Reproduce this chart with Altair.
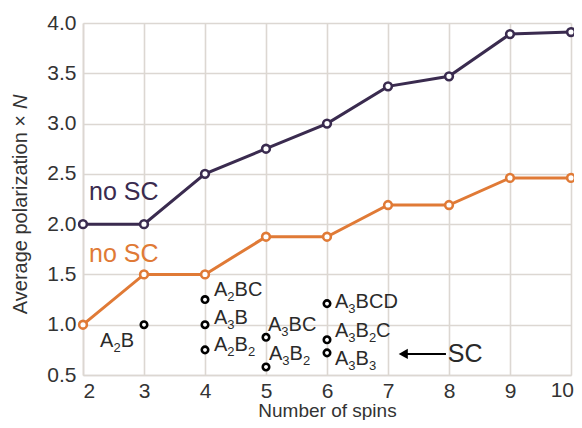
import altair as alt
import pandas as pd

# ---- data ----
spins = [2, 3, 4, 5, 6, 7, 8, 9, 10]
purple_no_sc = [2.0, 2.0, 2.5, 2.75, 3.0, 3.37, 3.47, 3.89, 3.91]
orange_no_sc = [1.0, 1.5, 1.5, 1.875, 1.875, 2.19, 2.19, 2.46, 2.46]

sc_spins = [3, 4, 4, 4, 5, 5, 6, 6, 6]
sc_values = [1.0, 1.25, 1.0, 0.75, 0.875, 0.58, 1.21, 0.85, 0.72]
sc_labels = ["A₂B", "A₂BC", "A₃B", "A₂B₂", "A₃BC", "A₃B₂", "A₃BCD", "A₃B₂C", "A₃B₃"]

x_ticks = [2, 3, 4, 5, 6, 7, 8, 9, 10]
y_ticks = [0.5, 1.0, 1.5, 2.0, 2.5, 3.0, 3.5, 4.0]
last_x_tick = [10]

# annotation anchors (data units)
nosc_label_x = [2.1, 2.1]
nosc_label_y = [2.32, 1.70]
arrow_x = [7.95, 7.25]
arrow_y = [0.71]
sc_text_x = [7.98]

# ---- styling ----
PURPLE = "#3a2b4f"
ORANGE = "#e07a36"
GRID = "#dcd7d2"
FONT = "Liberation Sans"
TXT = "#2a2a2a"
MAIN_SIZE = 20
SUB_SIZE = 13
SUB_DROP = 7

# label offsets (pixels) relative to each SC point: (align, dx, dy)
label_style = {
    "A₂B": ("right", -10, 16),
    "A₂BC": ("left", 9, -10),
    "A₃B": ("left", 9, -7),
    "A₂B₂": ("left", 9, -5),
    "A₃BC": ("left", 2, -12),
    "A₃B₂": ("left", 3, -13),
    "A₃BCD": ("left", 8, -2),
    "A₃B₂C": ("left", 8, -9),
    "A₃B₃": ("left", 8, 6),
}

# Arial/Liberation Sans advance widths (em) used to lay out subscripts
GLYPH_W = {"A": 0.667, "B": 0.667, "C": 0.722, "D": 0.722, "2": 0.556, "3": 0.556}
SUBS = {"₂": "2", "₃": "3"}


def split_label(label):
    segs = []
    for ch in label:
        sub = ch in SUBS
        t = SUBS.get(ch, ch)
        if segs and segs[-1][1] == sub:
            segs[-1][0] += t
        else:
            segs.append([t, sub])
    return segs


def seg_width(text, sub):
    size = SUB_SIZE if sub else MAIN_SIZE
    return sum(GLYPH_W[c] for c in text) * size


lines_df = pd.DataFrame(
    {
        "spins": spins * 2,
        "value": purple_no_sc + orange_no_sc,
        "series": ["purple"] * len(spins) + ["orange"] * len(spins),
    }
)
sc_df = pd.DataFrame({"spins": sc_spins, "value": sc_values, "label": sc_labels})

xscale = alt.Scale(domain=[2, 10], nice=False, zero=False)
yscale = alt.Scale(domain=[0.5, 4.0], nice=False, zero=False)

X = alt.X(
    "spins:Q",
    scale=xscale,
    axis=alt.Axis(
        values=x_ticks,
        format="d",
        labelExpr="datum.value == 10 ? '' : datum.label",
        labelPadding=5,
        title="Number of spins",
        titlePadding=0,
    ),
)
Y = alt.Y(
    "value:Q",
    scale=yscale,
    axis=alt.Axis(values=y_ticks, format=".1f", title=None),
)
cscale = alt.Scale(domain=["purple", "orange"], range=[PURPLE, ORANGE])
color = alt.Color("series:N", scale=cscale, legend=None)

base = alt.Chart(lines_df)
lines = base.mark_line(strokeWidth=3).encode(x=X, y=Y, color=color, detail="series:N")
line_pts = base.mark_point(
    filled=True, fill="white", size=60, strokeWidth=2.6, opacity=1
).encode(x=X, y=Y, stroke=alt.Stroke("series:N", scale=cscale, legend=None))

sc_pts = alt.Chart(sc_df).mark_point(
    filled=True, fill="white", stroke="black", size=42, strokeWidth=2.6, opacity=1
).encode(x=X, y=Y)

label_layers = []
for lab, (align, dx, dy) in label_style.items():
    segs = split_label(lab)
    total = sum(seg_width(t, s) for t, s in segs)
    cursor = dx if align == "left" else dx - total
    for t, s in segs:
        label_layers.append(
            alt.Chart(sc_df)
            .transform_filter(alt.datum.label == lab)
            .mark_text(
                text=t,
                align="left",
                baseline="middle",
                dx=round(cursor, 1),
                dy=dy + (SUB_DROP if s else 0),
                font=FONT,
                fontSize=SUB_SIZE if s else MAIN_SIZE,
                color=TXT,
            )
            .encode(x=X, y=Y)
        )
        cursor += seg_width(t, s)

nosc_df = pd.DataFrame(
    {"spins": nosc_label_x, "value": nosc_label_y, "series": ["purple", "orange"], "t": ["no SC", "no SC"]}
)
nosc_text = alt.Chart(nosc_df).mark_text(
    align="left", baseline="middle", font=FONT, fontSize=25
).encode(x=X, y=Y, text="t:N", color=color)

arrow_df = pd.DataFrame({"spins": [arrow_x[0]], "x2": [arrow_x[1]], "value": arrow_y})
arrow_line = alt.Chart(arrow_df).mark_rule(color="black", strokeWidth=2).encode(
    x=X, x2="x2:Q", y=Y
)
head_df = pd.DataFrame({"spins": [arrow_x[1]], "value": arrow_y})
arrow_head = alt.Chart(head_df).mark_point(
    shape="triangle-left", filled=True, color="black", size=110, opacity=1
).encode(x=X, y=Y)
sc_text_df = pd.DataFrame({"spins": sc_text_x, "value": arrow_y, "t": ["SC"]})
sc_text = alt.Chart(sc_text_df).mark_text(
    align="left", baseline="middle", font=FONT, fontSize=25, color=TXT
).encode(x=X, y=Y, text="t:N")

# last x tick label, right-aligned so it stays inside the page
last_tick_df = pd.DataFrame({"spins": last_x_tick, "value": [y_ticks[0]], "t": ["10"]})
last_tick = alt.Chart(last_tick_df).mark_text(
    align="right", baseline="top", dx=3, dy=5, font=FONT, fontSize=21, color="#333"
).encode(x=X, y=Y, text="t:N")

# y-axis title with italic N
ytitle_a = alt.Chart(pd.DataFrame({"t": ["Average polarization ×"]})).mark_text(
    angle=270, align="right", baseline="middle", font=FONT, fontSize=20, color="#333"
).encode(x=alt.value(-62), y=alt.value(92), text="t:N")
ytitle_b = alt.Chart(pd.DataFrame({"t": ["N"]})).mark_text(
    angle=270, align="left", baseline="middle", font=FONT, fontSize=20,
    fontStyle="italic", color="#333"
).encode(x=alt.value(-62), y=alt.value(86), text="t:N")

chart = (
    alt.layer(
        lines, line_pts, sc_pts, *label_layers, nosc_text,
        arrow_line, arrow_head, sc_text, last_tick, ytitle_a, ytitle_b,
    )
    .properties(
        width=488,
        height=352,
        autosize=alt.AutoSizeParams(type="none"),
        padding={"left": 75, "top": 15, "right": 3, "bottom": 45},
    )
    .configure_view(stroke=None)
    .configure_axis(
        grid=True,
        gridColor=GRID,
        gridWidth=1.6,
        domainColor=GRID,
        domainWidth=1.6,
        ticks=False,
        labelFont=FONT,
        labelFontSize=21,
        labelColor="#333",
        labelPadding=7,
        titleFont=FONT,
        titleFontSize=19,
        titleFontWeight="normal",
        titleColor="#333",
    )
)

chart.save("out.html", embed_options={"renderer": "svg", "actions": False})
